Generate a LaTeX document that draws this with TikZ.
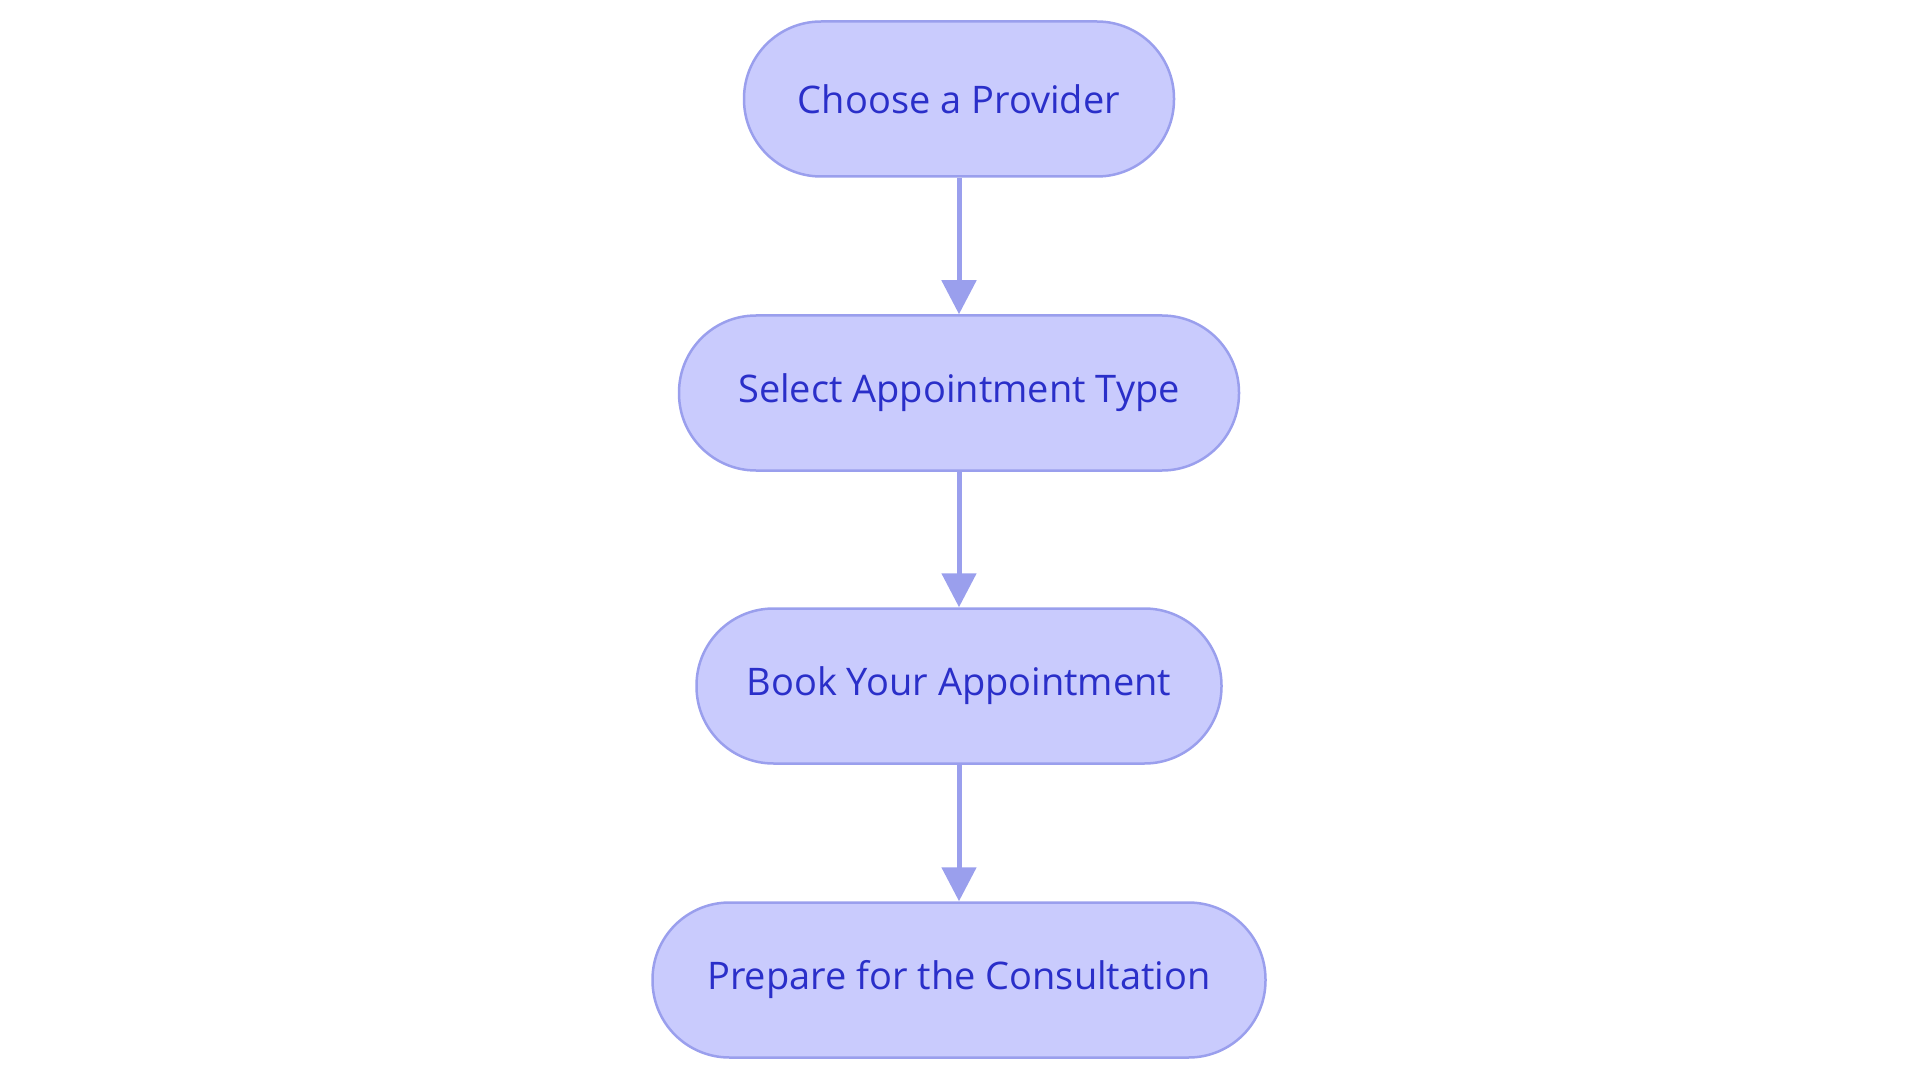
\documentclass[tikz,border=0pt]{standalone}
\usepackage{fontspec}
\setmainfont{Open Sans}
\usetikzlibrary{arrows.meta}
\definecolor{nodefill}{HTML}{C9CBFD}
\definecolor{nodeline}{HTML}{9A9FED}
\definecolor{nodetext}{HTML}{2A2FC9}
\begin{document}
\begin{tikzpicture}[x=1pt,y=-1pt,
  stepbox/.style={draw=nodeline, fill=nodefill, line width=2.5pt, rounded corners=77pt,
    minimum height=155pt, inner sep=0pt, text=nodetext,
    font=\fontsize{38}{44}\selectfont},
  flow/.style={draw=nodeline, line width=5pt, -{Triangle[length=34pt,width=34pt]}}]
\useasboundingbox (0,0) rectangle (1920,1083);
\node[stepbox, minimum width=430pt] (a) at (959,99) {Choose a Provider};
\node[stepbox, minimum width=560pt] (b) at (959,393) {Select Appointment Type};
\node[stepbox, minimum width=525pt] (c) at (959,686) {Book Your Appointment};
\node[stepbox, minimum width=613pt] (d) at (959,980) {Prepare for the Consultation};
\draw[flow] (a) -- (b);
\draw[flow] (b) -- (c);
\draw[flow] (c) -- (d);
\end{tikzpicture}
\end{document}
